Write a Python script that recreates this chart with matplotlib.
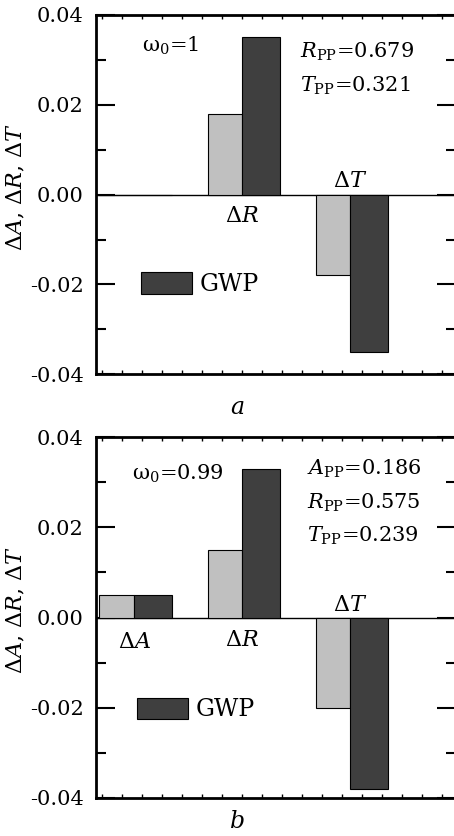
import matplotlib
matplotlib.use("Agg")
import matplotlib.pyplot as plt
from matplotlib.ticker import MultipleLocator, FixedLocator, NullLocator, FuncFormatter
from matplotlib.patches import Patch

plt.rcParams['font.family'] = ['DejaVu Serif']
plt.rcParams['mathtext.fontset'] = 'dejavuserif'
plt.rcParams['axes.unicode_minus'] = False

# ---- data ----
categories = [r'$\Delta A$', r'$\Delta R$', r'$\Delta T$']
group_x = [1, 2, 3]
a_light = [0.0, 0.018, -0.018]
a_dark = [0.0, 0.035, -0.035]
b_light = [0.005, 0.015, -0.020]
b_dark = [0.005, 0.033, -0.038]
yticks_major = [-0.04, -0.02, 0.00, 0.02, 0.04]
a_notes = [r'$R_{\mathrm{PP}}$=0.679', r'$T_{\mathrm{PP}}$=0.321']
b_notes = [r'$A_{\mathrm{PP}}$=0.186', r'$R_{\mathrm{PP}}$=0.575', r'$T_{\mathrm{PP}}$=0.239']

LIGHT = '#c0c0c0'
DARK = '#3f3f3f'
W_LIGHT = 0.32
W_DARK = 0.35

fig = plt.figure(figsize=(4.54, 8.36), dpi=100)
W, H = 454, 836
axes_px = [(96, 15, 456, 374.3), (96, 437.3, 456, 797.7)]


def make_ax(box):
    x0, y0, x1, y1 = box
    return fig.add_axes([x0 / W, (H - y1) / H, (x1 - x0) / W, (y1 - y0) / H])


def style(ax):
    ax.set_xlim(0.648, 3.98)
    ax.set_ylim(-0.04, 0.04)
    ax.yaxis.set_major_locator(FixedLocator(yticks_major))
    ax.yaxis.set_minor_locator(MultipleLocator(0.01))
    ax.yaxis.set_major_formatter(FuncFormatter(lambda v, p: f'{v:.2f}'))
    ax.xaxis.set_major_locator(NullLocator())
    ax.xaxis.set_minor_locator(MultipleLocator(0.185, offset=0.15))
    ax.tick_params(axis='y', which='major', direction='in', length=14, width=1.5,
                   left=True, right=True, labelsize=15, pad=9)
    ax.tick_params(axis='y', which='minor', direction='in', length=7, width=1.5,
                   left=True, right=True)
    ax.tick_params(axis='x', which='minor', direction='in', length=3, width=1,
                   top=True, bottom=True)
    for s in ax.spines.values():
        s.set_linewidth(2)
    ax.axhline(0, color='black', lw=1, zorder=1)
    ax.set_ylabel(r'$\Delta A$, $\Delta R$, $\Delta T$', fontsize=16)
    ax.yaxis.set_label_coords(-0.19, 0.52)


def bars(ax, light, dark):
    xl = [x - W_LIGHT / 2 for x in group_x]
    xd = [x + W_DARK / 2 for x in group_x]
    ax.bar(xl, light, width=W_LIGHT, color=LIGHT, edgecolor='black', lw=0.8, zorder=2)
    h = ax.bar(xd, dark, width=W_DARK, color=DARK, edgecolor='black', lw=0.8, zorder=2)
    return h


# ---- panel a ----
ax1 = make_ax(axes_px[0])
style(ax1)
h1 = bars(ax1, a_light, a_dark)
ax1.text(group_x[1], -0.0062, categories[1], ha='center', va='baseline', fontsize=16)
ax1.text(group_x[2], 0.0018, categories[2], ha='center', va='baseline', fontsize=16)
ax1.text(0.128, 0.897, 'ω$_0$=1', transform=ax1.transAxes, fontsize=15, va='baseline')
for t, yy in zip(a_notes, [0.880, 0.786]):
    ax1.text(0.567, yy, t, transform=ax1.transAxes, fontsize=15, va='baseline')
ax1.legend([Patch(facecolor=DARK, edgecolor='black', lw=0.8)], ['GWP'],
           loc='center left', bbox_to_anchor=(0.125, 0.251), frameon=False,
           fontsize=17, handlelength=2.17, handleheight=1.02, handletextpad=0.3,
           borderpad=0, borderaxespad=0)

# ---- panel b ----
ax2 = make_ax(axes_px[1])
style(ax2)
h2 = bars(ax2, b_light, b_dark)
ax2.text(group_x[0], -0.0067, categories[0], ha='center', va='baseline', fontsize=16)
ax2.text(group_x[1], -0.0063, categories[1], ha='center', va='baseline', fontsize=16)
ax2.text(group_x[2], 0.0015, categories[2], ha='center', va='baseline', fontsize=16)
ax2.text(0.10, 0.8835, 'ω$_0$=0.99', transform=ax2.transAxes, fontsize=15, va='baseline')
for t, yy in zip(b_notes, [0.8954, 0.8011, 0.7095]):
    ax2.text(0.586, yy, t, transform=ax2.transAxes, fontsize=15, va='baseline')
ax2.legend([Patch(facecolor=DARK, edgecolor='black', lw=0.8)], ['GWP'],
           loc='center left', bbox_to_anchor=(0.114, 0.245), frameon=False,
           fontsize=17, handlelength=2.17, handleheight=1.02, handletextpad=0.3,
           borderpad=0, borderaxespad=0)

fig.text(237 / W, (H - 408) / H, '$a$', ha='center', va='center', fontsize=17)
fig.text(237 / W, (H - 822) / H, '$b$', ha='center', va='center', fontsize=17)

fig.savefig('out.png', dpi=100)
